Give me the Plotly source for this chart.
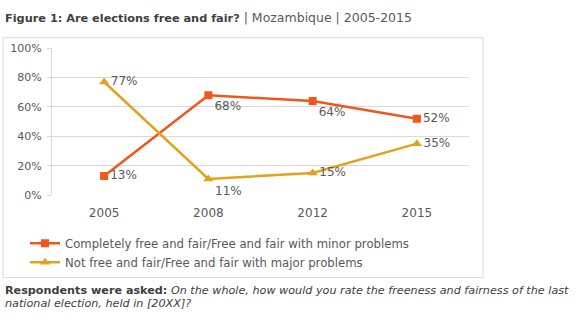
import plotly.graph_objects as go

years = ["2005", "2008", "2012", "2015"]
free_fair = [0.13, 0.68, 0.64, 0.52]
not_free = [0.77, 0.11, 0.15, 0.35]
free_fair_name = "Completely free and fair/Free and fair with minor problems"
not_free_name = "Not free and fair/Free and fair with major problems"
y_ticks = [0, 0.2, 0.4, 0.6, 0.8, 1.0]

W, H = 577, 322
RED = "#F2561D"
GOLD = "#E3A11C"
TXT = "#595959"
FONT = "DejaVu Sans"


def px(x):
    return x / W


def py(y):
    return 1 - y / H


fig = go.Figure()
fig.add_trace(go.Scatter(
    x=years, y=free_fair, name=free_fair_name, mode="lines+markers+text",
    line=dict(color=RED, width=2.5),
    marker=dict(symbol="square", size=8, color=RED),
    text=[f"{v:.0%}" for v in free_fair],
    textposition=["middle right", "bottom right", "bottom right", "middle right"],
    textfont=dict(family=FONT, size=12, color=TXT),
))
fig.add_trace(go.Scatter(
    x=years, y=not_free, name=not_free_name, mode="lines+markers+text",
    line=dict(color=GOLD, width=2.5),
    marker=dict(symbol="triangle-up", size=9, color=GOLD),
    text=[f"{v:.0%}" for v in not_free],
    textposition=["middle right", "bottom right", "middle right", "middle right"],
    textfont=dict(family=FONT, size=12, color=TXT),
))

fig.update_layout(
    width=W, height=H, margin=dict(l=0, r=0, t=0, b=0),
    paper_bgcolor="white", plot_bgcolor="white",
    font=dict(family=FONT, color=TXT, size=12),
    showlegend=True,
    legend=dict(x=px(25), y=py(232), xanchor="left", yanchor="top",
                font=dict(family=FONT, size=11.7, color=TXT),
                tracegroupgap=0, itemwidth=30, bgcolor="rgba(0,0,0,0)"),
    xaxis=dict(domain=[px(52), px(469)], type="category", range=[-0.5, 3.5],
               showgrid=False, showline=False, ticks="", zeroline=False,
               ticklabelstandoff=9,
               tickfont=dict(family=FONT, size=12, color=TXT)),
    yaxis=dict(domain=[py(197), py(44)], range=[0, 1], tickvals=y_ticks,
               tickformat=".0%", showgrid=True, gridcolor="#D9D9D9", gridwidth=1,
               showline=True, linecolor="#D9D9D9", ticks="outside", ticklen=4,
               tickcolor="#D9D9D9", zeroline=False, ticklabelstandoff=3,
               tickfont=dict(family=FONT, size=11, color=TXT)),
)

# chart frame
fig.add_shape(type="rect", xref="paper", yref="paper",
              x0=px(3), x1=px(483), y0=py(283), y1=py(33),
              line=dict(color="#D9D9D9", width=1), layer="below")

# heading
fig.add_annotation(
    xref="paper", yref="paper", x=px(3), y=py(12), xanchor="left", yanchor="middle",
    showarrow=False, align="left",
    text="<b><span style='font-size:11.3px'>Figure 1: Are elections free and fair?</span></b>"
         "<span style='color:#595959'> | Mozambique | 2005-2015</span>",
    font=dict(family=FONT, size=12.5, color="#404040"),
)

# question wording, two lines
question_lines = [
    "<b>Respondents were asked:</b> <i>On the whole, how would you rate the freeness "
    "and fairness of the last</i>",
    "<i>national election, held in [20XX]?</i>",
]
for line_text, y_px in zip(question_lines, [296, 310]):
    fig.add_annotation(
        xref="paper", yref="paper", x=px(3), y=py(y_px), xanchor="left", yanchor="middle",
        showarrow=False, align="left", text=line_text,
        font=dict(family=FONT, size=11.2, color="#404040"),
    )

fig.write_html("out.html")
